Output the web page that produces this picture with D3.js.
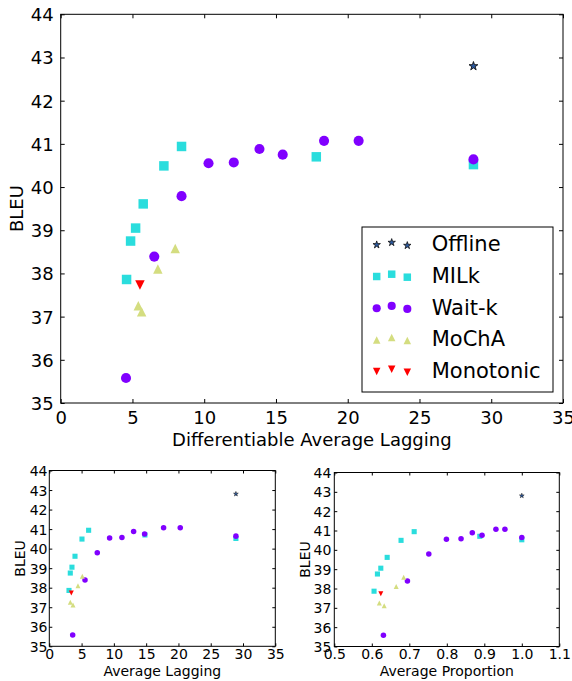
<!DOCTYPE html>
<html><head><meta charset="utf-8">
<script src="https://cdn.jsdelivr.net/npm/d3@7"></script>
<style>
html,body{margin:0;padding:0;background:#fff;}
svg text{font-family:"DejaVu Sans",sans-serif;fill:#000;}
</style></head>
<body>
<svg id="c" width="572" height="681"></svg>
<script>
// ---------- data ----------
const seriesNames = ["Offline", "MILk", "Wait-k", "MoChA", "Monotonic"];
const yTicks = [35, 36, 37, 38, 39, 40, 41, 42, 43, 44];
const dalTicks = [0, 5, 10, 15, 20, 25, 30, 35];
const alTicks = [0, 5, 10, 15, 20, 25, 30, 35];
const apTicks = [0.5, 0.6, 0.7, 0.8, 0.9, 1.0, 1.1];

// BLEU (shared across panels)
const offlineBLEU = [42.80];
const milkBLEU = [37.86, 38.75, 39.05, 39.61, 40.49, 40.94, 40.70, 40.52];
const waitkBLEU = [35.58, 38.39, 39.79, 40.55, 40.57, 40.88, 40.75, 41.07, 41.07, 40.64];
const mochaBLEU = [37.25, 37.11, 38.10, 38.58];
const monoBLEU = [37.73];

// Differentiable Average Lagging
const offlineDAL = [28.76];
const milkDAL = [4.59, 4.87, 5.22, 5.75, 7.19, 8.42, 17.81, 28.76];
const waitkDAL = [4.55, 6.52, 8.42, 10.30, 12.06, 13.85, 15.47, 18.35, 20.76, 28.76];
const mochaDAL = [5.41, 5.64, 6.77, 7.98];
const monoDAL = [5.52];

// Average Lagging
const offlineAL = [28.9];
const milkAL = [3.05, 3.25, 3.51, 3.98, 5.06, 6.09, 14.81, 28.9];
const waitkAL = [3.62, 5.53, 7.43, 9.34, 11.25, 13.06, 14.76, 17.7, 20.28, 28.9];
const mochaAL = [3.25, 3.67, 4.44, 5.11];
const monoAL = [3.41];

// Average Proportion
const offlineAP = [1.0];
const milkAP = [0.606, 0.615, 0.624, 0.641, 0.678, 0.713, 0.888, 1.0];
const waitkAP = [0.631, 0.695, 0.752, 0.799, 0.838, 0.868, 0.894, 0.931, 0.955, 1.0];
const mochaAP = [0.620, 0.633, 0.665, 0.685];
const monoAP = [0.624];

// ---------- styling ----------
const triUp = {draw(ctx, size){const h=Math.sqrt(size)/2; ctx.moveTo(0,-h); ctx.lineTo(h,h); ctx.lineTo(-h,h); ctx.closePath();}};
const triDown = {draw(ctx, size){const h=Math.sqrt(size)/2; ctx.moveTo(0,h); ctx.lineTo(h,-h); ctx.lineTo(-h,-h); ctx.closePath();}};
const styles = {
  "Offline":   {type: d3.symbolStar,   fill: "#2c5aa0", stroke: "#111"},
  "MILk":      {type: d3.symbolSquare, fill: "#2adddd", stroke: "none"},
  "Wait-k":    {type: d3.symbolCircle, fill: "#8000ff", stroke: "none"},
  "MoChA":     {type: triUp,           fill: "#d4dd80", stroke: "none"},
  "Monotonic": {type: triDown,         fill: "#ff0000", stroke: "none"}
};
const bleuData = [offlineBLEU, milkBLEU, waitkBLEU, mochaBLEU, monoBLEU];

const svg = d3.select("#c");

function panel(o){
  const x = d3.scaleLinear().domain(o.xDomain).range([o.left, o.right]);
  const y = d3.scaleLinear().domain([35, 44]).range([o.bottom, o.top]);
  const g = svg.append("g");
  const fs = o.fontSize;

  const styleAxis = sel => { sel.select(".domain").remove(); sel.selectAll("line").attr("stroke", "#000").attr("stroke-width", 1); };

  // bottom
  const gb = g.append("g").attr("transform", `translate(0,${o.bottom})`)
    .call(d3.axisBottom(x).tickValues(o.xTicks).tickFormat(o.xFmt).tickSizeInner(-o.tick).tickSizeOuter(0));
  styleAxis(gb);
  gb.selectAll("text").attr("y", o.xLabY).attr("dy", null).style("font-size", fs + "px").attr("fill", "#000");
  // top
  const gt = g.append("g").attr("transform", `translate(0,${o.top})`)
    .call(d3.axisTop(x).tickValues(o.xTicks).tickFormat("").tickSizeInner(-o.tick).tickSizeOuter(0));
  styleAxis(gt);
  // left
  const gl = g.append("g").attr("transform", `translate(${o.left},0)`)
    .call(d3.axisLeft(y).tickValues(yTicks).tickFormat(d3.format("d")).tickSizeInner(-o.tick).tickSizeOuter(0));
  styleAxis(gl);
  gl.selectAll("text").attr("x", -o.yLabGap).attr("dy", "0.36em").style("font-size", fs + "px").attr("fill", "#000");
  // right
  const gr = g.append("g").attr("transform", `translate(${o.right},0)`)
    .call(d3.axisRight(y).tickValues(yTicks).tickFormat("").tickSizeInner(-o.tick).tickSizeOuter(0));
  styleAxis(gr);

  // frame
  g.append("rect").attr("x", o.left).attr("y", o.top)
    .attr("width", o.right - o.left).attr("height", o.bottom - o.top)
    .attr("fill", "none").attr("stroke", "#000").attr("stroke-width", 1);

  // points
  seriesNames.forEach((name, i) => {
    const st = styles[name];
    const xs = o.xData[i], ys = bleuData[i];
    const sz = o.sizes[name];
    g.append("g").selectAll("path").data(xs.map((v, j) => [v, ys[j]])).join("path")
      .attr("transform", d => `translate(${x(d[0])},${y(d[1])})`)
      .attr("d", d3.symbol(st.type, sz))
      .attr("fill", st.fill)
      .attr("stroke", st.stroke)
      .attr("stroke-width", st.stroke === "none" ? 0 : o.starStroke);
  });

  // axis titles
  g.append("text").attr("x", (o.left + o.right) / 2).attr("y", o.xTitleY)
    .attr("text-anchor", "middle").style("font-size", fs + "px").text(o.xTitle);
  g.append("text").attr("transform", `translate(${o.yTitleX},${(o.top + o.bottom) / 2}) rotate(-90)`)
    .attr("text-anchor", "middle").style("font-size", fs + "px").text("BLEU");
  return {x, y};
}

// main panel
panel({
  left: 60.7, right: 563, top: 14.3, bottom: 403,
  xDomain: [0, 35], xTicks: dalTicks, xFmt: d3.format("d"),
  fontSize: 18, tick: 4, xLabY: 21, yLabGap: 7, xTitleY: 446, yTitleX: 23,
  xTitle: "Differentiable Average Lagging",
  xData: [offlineDAL, milkDAL, waitkDAL, mochaDAL, monoDAL],
  sizes: {"Offline": 24, "MILk": 90, "Wait-k": 80, "MoChA": 90, "Monotonic": 90},
  starStroke: 0.9
});

// bottom-left panel
panel({
  left: 49.3, right: 275.3, top: 470.5, bottom: 646.3,
  xDomain: [0, 35], xTicks: alTicks, xFmt: d3.format("d"),
  fontSize: 14, tick: 3, xLabY: 12.5, yLabGap: 1.8, xTitleY: 676, yTitleX: 25,
  xTitle: "Average Lagging",
  xData: [offlineAL, milkAL, waitkAL, mochaAL, monoAL],
  sizes: {"Offline": 7, "MILk": 26, "Wait-k": 24, "MoChA": 25, "Monotonic": 25},
  starStroke: 0.5
});

// bottom-right panel
panel({
  left: 334.3, right: 559.3, top: 472.5, bottom: 646.5,
  xDomain: [0.5, 1.1], xTicks: apTicks, xFmt: d3.format(".1f"),
  fontSize: 14, tick: 3, xLabY: 12, yLabGap: 3, xTitleY: 676, yTitleX: 310,
  xTitle: "Average Proportion",
  xData: [offlineAP, milkAP, waitkAP, mochaAP, monoAP],
  sizes: {"Offline": 7, "MILk": 26, "Wait-k": 24, "MoChA": 25, "Monotonic": 25},
  starStroke: 0.5
});

// legend (main panel)
const leg = svg.append("g");
leg.append("rect").attr("x", 362).attr("y", 227).attr("width", 191).attr("height", 165)
  .attr("fill", "#fff").attr("stroke", "#000").attr("stroke-width", 1);
const legX = [376.7, 391.7, 407.3];
const legDY = [1.3, -1, 2];
const legSizes = {"Offline": 17, "MILk": 56, "Wait-k": 52, "MoChA": 56, "Monotonic": 56};
seriesNames.forEach((name, i) => {
  const cy = 243.5 + i * 31.7;
  const st = styles[name];
  legX.forEach((lx, j) => {
    leg.append("path").attr("transform", `translate(${lx},${cy + legDY[j]})`)
      .attr("d", d3.symbol(st.type, legSizes[name])())
      .attr("fill", st.fill).attr("stroke", st.stroke)
      .attr("stroke-width", st.stroke === "none" ? 0 : 0.8);
  });
  leg.append("text").attr("x", 431.7).attr("y", cy + 7.7).style("font-size", "21px").text(name);
});
</script>
</body></html>
